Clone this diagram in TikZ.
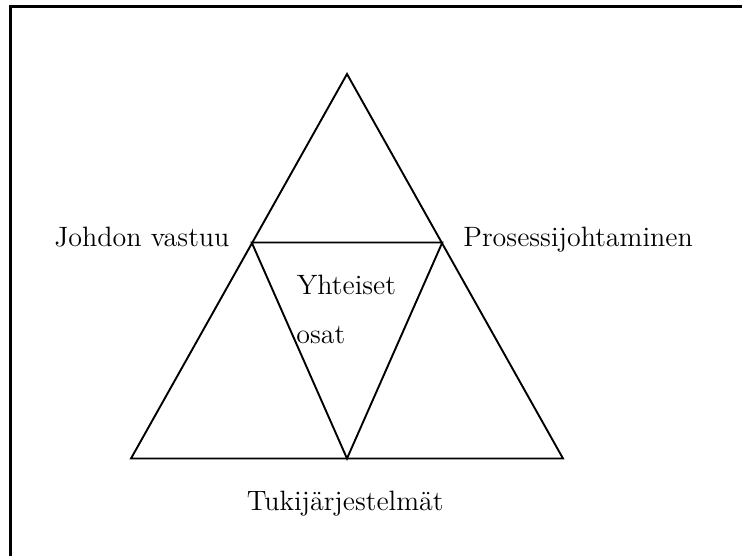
\documentclass[tikz,border=0pt]{standalone}
\begin{document}
\begin{tikzpicture}[x=0.5pt,y=-0.5pt,
  edge/.style={line width=0.95pt,line join=miter},
  frameline/.style={line width=1.2pt},
  lbl/.style={anchor=base west,inner sep=0pt,font=\fontsize{14}{17}\selectfont}]
\useasboundingbox (0,0) rectangle (742,556);
% frame (only top and left edges visible)
\coordinate (fbl) at (10.5,556);
\coordinate (ftl) at (10.5,6.5);
\coordinate (ftr) at (742,6.5);
\draw[frameline] (fbl) -- (ftl) -- (ftr);
% triangle vertices
\coordinate (apex) at (347,74);
\coordinate (bl) at (131,458.5);
\coordinate (br) at (563,458.5);
\coordinate (ml) at (251.7,242.5);
\coordinate (mr) at (442.3,242.5);
\coordinate (mb) at (347,458.5);
\draw[edge] (apex) -- (bl) -- (br) -- cycle;
\draw[edge] (ml) -- (mr) -- (mb) -- cycle;
% labels
\node[lbl] (johdon) at (54,246) {Johdon vastuu};
\node[lbl] (prosessi) at (463,246) {Prosessijohtaminen};
\node[lbl] (yhteiset) at (296.5,294) {Yhteiset};
\node[lbl] (osat) at (296,343) {osat};
\node[lbl] (tuki) at (246.5,510) {Tukijärjestelmät};
\end{tikzpicture}
\end{document}
